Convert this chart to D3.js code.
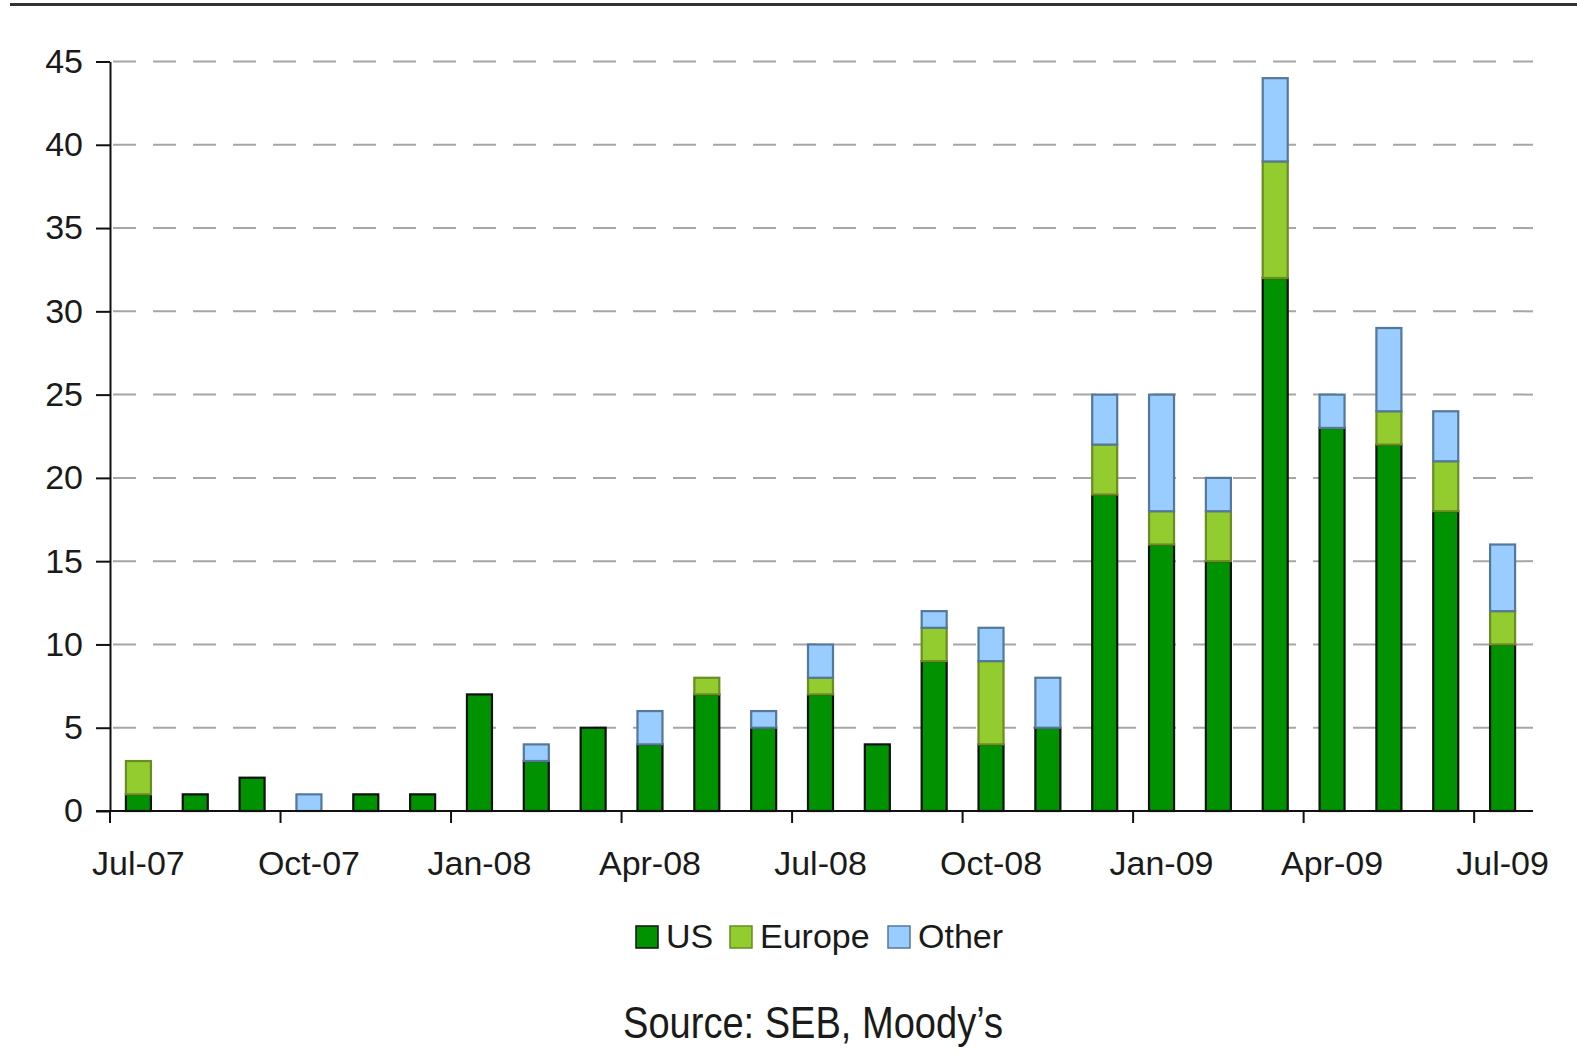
<!DOCTYPE html>
<html>
<head>
<meta charset="utf-8">
<script src="https://cdn.jsdelivr.net/npm/d3@7"></script>
<style>
  body { margin: 0; background: #fff; }
  svg { display: block; font-family: "Liberation Sans", Arial, sans-serif; }
</style>
</head>
<body>
<div id="svg-container"></div>
<script>
// data
const months = ["Jul-07","Aug-07","Sep-07","Oct-07","Nov-07","Dec-07","Jan-08","Feb-08","Mar-08","Apr-08","May-08","Jun-08","Jul-08","Aug-08","Sep-08","Oct-08","Nov-08","Dec-08","Jan-09","Feb-09","Mar-09","Apr-09","May-09","Jun-09","Jul-09"];
const us     = [1, 1, 2, 0, 1, 1, 7, 3, 5, 4, 7, 5, 7, 4, 9, 4, 5, 19, 16, 15, 32, 23, 22, 18, 10];
const europe = [2, 0, 0, 0, 0, 0, 0, 0, 0, 0, 1, 0, 1, 0, 2, 5, 0, 3, 2, 3, 7, 0, 2, 3, 2];
const other  = [0, 0, 0, 1, 0, 0, 0, 1, 0, 2, 0, 1, 2, 0, 1, 2, 3, 3, 7, 2, 5, 2, 5, 3, 4];
const seriesNames = ["US", "Europe", "Other"];
const xTickLabels = ["Jul-07","Oct-07","Jan-08","Apr-08","Jul-08","Oct-08","Jan-09","Apr-09","Jul-09"];
const yTicks = [0, 5, 10, 15, 20, 25, 30, 35, 40, 45];

const width = 1577, height = 1055;
const svg = d3.select("#svg-container").append("svg")
  .attr("width", width).attr("height", height);

const colors = { US: "#009200", Europe: "#92cc2e", Other: "#99ccff" };
const strokes = { US: "#111", Europe: "#6a8c22", Other: "#55789a" };

// scales
const x = d3.scaleBand().domain(months).range([110, 1531])
  .paddingInner(0.56).paddingOuter(0.28);
const y = d3.scaleLinear().domain([0, 45]).range([811, 61.5]);
const step = x.step();

// top rule
svg.append("line")
  .attr("x1", 10).attr("x2", width).attr("y1", 4.5).attr("y2", 4.5)
  .attr("stroke", "#333").attr("stroke-width", 3);

// grid
svg.append("g").selectAll("line")
  .data(yTicks.filter(d => d > 0)).join("line")
  .attr("x1", 110).attr("x2", 1533)
  .attr("y1", d => y(d)).attr("y2", d => y(d))
  .attr("stroke", "#a6a6a6").attr("stroke-width", 2)
  .attr("stroke-dasharray", "23,17").attr("stroke-dashoffset", -3);

// stacked bars
const table = months.map((m, i) => ({ month: m, US: us[i], Europe: europe[i], Other: other[i] }));
const stacked = d3.stack().keys(seriesNames)(table);

svg.append("g").selectAll("g")
  .data(stacked).join("g")
  .attr("fill", s => colors[s.key])
  .attr("stroke", s => strokes[s.key])
  .attr("stroke-width", 2.2)
  .selectAll("rect")
  .data(s => s.filter(d => d[1] > d[0]))
  .join("rect")
  .attr("x", d => x(d.data.month))
  .attr("width", x.bandwidth())
  .attr("y", d => y(d[1]))
  .attr("height", d => y(d[0]) - y(d[1]));

// y axis
const yAxis = d3.axisLeft(y).tickValues(yTicks).tickSize(14).tickSizeOuter(0).tickPadding(13);
const gy = svg.append("g").attr("transform", "translate(110,0)").call(yAxis);
gy.select(".domain").attr("stroke", "#111").attr("stroke-width", 2);
gy.selectAll(".tick line").attr("stroke", "#111").attr("stroke-width", 2);
gy.selectAll(".tick text").attr("font-size", 34).attr("fill", "#1a1a1a")
  .attr("font-family", "Liberation Sans, Arial, sans-serif");

// x axis
const xAxis = d3.axisBottom(x).tickValues(xTickLabels).tickSize(0).tickSizeOuter(0).tickPadding(40);
const gx = svg.append("g").attr("transform", "translate(0,811)").call(xAxis);
gx.select(".domain").attr("d", "M96,0H1533").attr("stroke", "#111").attr("stroke-width", 2);
gx.selectAll(".tick line")
  .attr("x1", -step / 2).attr("x2", -step / 2).attr("y2", 12)
  .attr("stroke", "#111").attr("stroke-width", 2);
gx.selectAll(".tick text").attr("font-size", 34).attr("fill", "#1a1a1a")
  .attr("font-family", "Liberation Sans, Arial, sans-serif");

// legend
const legendX = [636, 730, 888];
const legend = svg.append("g").selectAll("g")
  .data(seriesNames).join("g")
  .attr("transform", (d, i) => `translate(${legendX[i]},926)`);
legend.append("rect")
  .attr("width", 22).attr("height", 22)
  .attr("fill", d => colors[d]).attr("stroke", d => strokes[d]).attr("stroke-width", 1.5);
legend.append("text")
  .attr("x", 30).attr("y", 22)
  .attr("font-size", 34).attr("fill", "#1a1a1a")
  .text(d => d);

// source
svg.append("text")
  .attr("x", 813).attr("y", 1038)
  .attr("text-anchor", "middle")
  .attr("font-family", "Liberation Sans Narrow, Arial Narrow, Liberation Sans, sans-serif")
  .attr("font-size", 44).attr("fill", "#1a1a1a")
  .attr("textLength", 380).attr("lengthAdjust", "spacingAndGlyphs")
  .text("Source: SEB, Moody\u2019s");
</script>
</body>
</html>
